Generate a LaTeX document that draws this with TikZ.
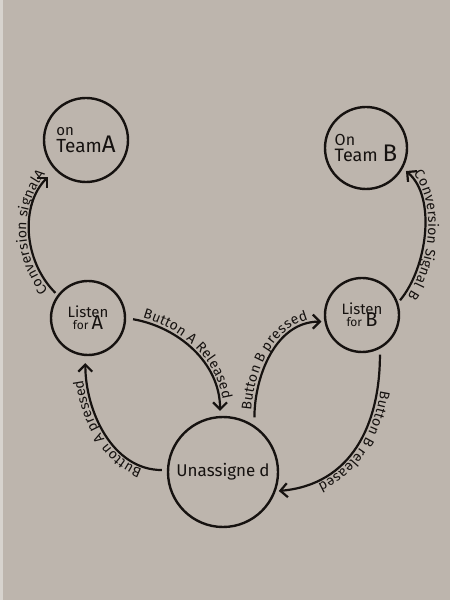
\documentclass[tikz,border=0pt]{standalone}
\usepackage{fontspec}
\setmainfont{Fira Sans}
\usetikzlibrary{arrows.meta,decorations.text}
\definecolor{paper}{RGB}{189,181,173}
\definecolor{ink}{RGB}{22,18,16}

\begin{document}
\begin{tikzpicture}[x=1pt,y=1pt,
        state/.style={circle, draw=ink, line width=2.4pt, inner sep=0pt, text=ink, align=center},
        trans/.style={draw=ink, line width=2.2pt, -{Straight Barb[length=7pt,width=14pt]}},
        tlabel/.style={postaction={decorate, decoration={text along path, text align=center,
                raise=4pt, text color=ink, text={|\fontsize{14pt}{16pt}\selectfont|#1}}}},
        tlabelrev/.style={postaction={decorate, decoration={text along path, reverse path,
                text align=center, raise=4pt, text color=ink,
                text={|\fontsize{14pt}{16pt}\selectfont|#1}}}}]
        \useasboundingbox (0,0) rectangle (450,600);
        \fill[paper] (0,0) rectangle (450,600);
        \fill[paper!60!white] (0,0) rectangle (3,600);

        \node[state, minimum size=84pt, align=left] (teamA) at (86,460)
            {{\fontsize{15pt}{15pt}\selectfont on}\\[-1pt]{\fontsize{19pt}{22pt}\selectfont Team\fontsize{24pt}{24pt}\selectfont A}};
        \node[state, minimum size=82pt, align=left] (teamB) at (366,452)
            {{\fontsize{16pt}{16pt}\selectfont On}\\[-1pt]{\fontsize{18pt}{22pt}\selectfont Team \fontsize{24pt}{24pt}\selectfont B}};
        \node[state, minimum size=74pt] (listenA) at (88,282)
            {{\fontsize{15pt}{17pt}\selectfont Listen}\\[-3pt]{\fontsize{12pt}{14pt}\selectfont for \fontsize{20pt}{20pt}\selectfont A}};
        \node[state, minimum size=74pt] (listenB) at (362,285)
            {{\fontsize{15pt}{17pt}\selectfont Listen}\\[-3pt]{\fontsize{12pt}{14pt}\selectfont for \fontsize{20pt}{20pt}\selectfont B}};
        \node[state, minimum size=110pt] (unassigned) at (223,128)
            {\fontsize{17pt}{20pt}\selectfont Unassigne\hspace{4pt}d};

        \draw[trans, tlabel={Conversion signalA}, shorten <=3pt, shorten >=10pt]
            (listenA.143) to[out=135,in=225] (teamA.224);
        \draw[trans, tlabelrev={Conversion Signal B}, shorten <=3pt, shorten >=4pt]
            (listenB.19) to[out=50,in=-40,looseness=0.85] (teamB.-29);
        \draw[trans, tlabel={Button A Released}, shorten <=7pt, shorten >=5pt]
            (listenA.0) to[out=-10,in=90] (unassigned.93);
        \draw[trans, tlabel={Button A pressed}, shorten <=5pt, shorten >=7pt]
            (unassigned.178) to[out=180,in=-90] (listenA.266);
        \draw[trans, tlabel={Button B pressed}, shorten <=8pt, shorten >=3pt]
            (unassigned.56) to[out=90,in=180] (listenB.190);
        \draw[trans, tlabel={Button B released}, shorten <=6pt, shorten >=3pt]
            (listenB.-62) to[out=-90,in=5,looseness=1.1] (unassigned.-20);
\end{tikzpicture}
\end{document}
